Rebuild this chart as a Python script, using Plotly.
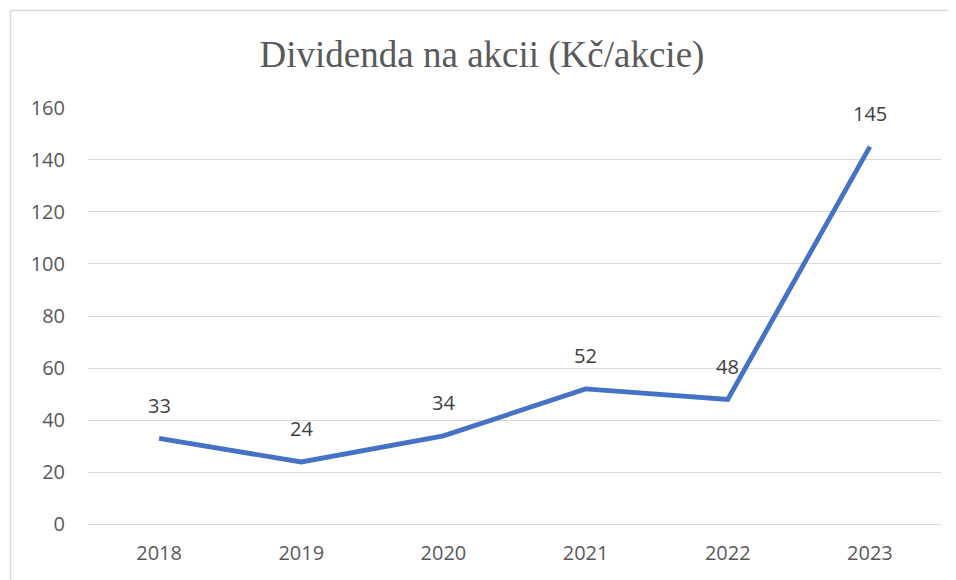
import plotly.graph_objects as go

years = [2018, 2019, 2020, 2021, 2022, 2023]
dividend = [33, 24, 34, 52, 48, 145]
y_ticks = [0, 20, 40, 60, 80, 100, 120, 140, 160]
title_text = "Dividenda na akcii (Kč/akcie)"

TEXT = "#595959"
FONT = "Open Sans, Liberation Sans, sans-serif"

fig = go.Figure()
fig.add_trace(go.Scatter(
    x=years, y=dividend, mode="lines",
    line=dict(color="#4472C4", width=4.8),
    hoverinfo="x+y", showlegend=False,
))

for x, y in zip(years, dividend):
    fig.add_annotation(x=x, y=y, text=str(y), showarrow=False, yshift=33,
                       font=dict(family=FONT, size=20, color="#404040"))

# page body has an 8px margin, so figure coords = screen coords - 8
OFF = 8
W, H = 956 - OFF, 580 - OFF
L, R, T, B = 88 - OFF, 15, 107 - OFF, 55
pw, ph = W - L - R, H - T - B
fig.add_shape(type="rect", xref="paper", yref="paper",
              x0=(2.5 - L) / pw, x1=(W + 30 - L) / pw,
              y0=(H - B - (H + 30)) / ph, y1=(H - B - 2.5) / ph,
              line=dict(color="#D9D9D9", width=1.5), layer="below")

fig.update_layout(
    width=W, height=H,
    margin=dict(l=L, r=R, t=T, b=B),
    paper_bgcolor="white", plot_bgcolor="white",
    title=dict(text=title_text, x=0.5, xanchor="center", y=1 - 46 / H, yanchor="middle",
               font=dict(family="Liberation Serif, Times New Roman, serif", size=37, color=TEXT)),
    xaxis=dict(range=[2017.5, 2023.5], tickvals=years, ticktext=[str(v) for v in years],
               showgrid=False, zeroline=False, showline=False,
               tickfont=dict(family=FONT, size=20, color=TEXT), ticks="",
               ticklabelstandoff=14),
    yaxis=dict(range=[-0.2, 160.2], tickvals=y_ticks, showgrid=True, gridcolor="#D9D9D9",
               gridwidth=1.3, zeroline=True, zerolinecolor="#D9D9D9", zerolinewidth=1.3,
               showline=False,
               tickfont=dict(family=FONT, size=20, color=TEXT), ticks="",
               ticklabelstandoff=22),
)

fig.write_html("out.html")
